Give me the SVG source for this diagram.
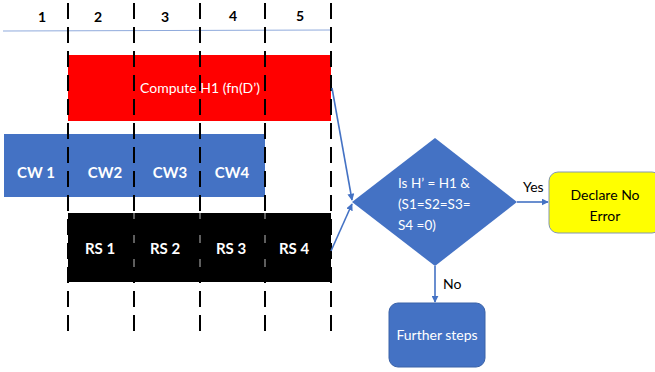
<svg xmlns="http://www.w3.org/2000/svg" width="655" height="372" viewBox="0 0 655 372">
<style>
text{font-family:Lato,"Open Sans","Liberation Sans",sans-serif;}
.num{font-size:14px;font-weight:bold;fill:#000;text-anchor:middle;}
.wt{fill:#fff;font-size:14px;text-anchor:middle;}
.wb{fill:#fff;font-size:15px;font-weight:bold;text-anchor:middle;}
.dash{stroke:#000;stroke-width:2;stroke-dasharray:16 8;fill:none;}
.conn{stroke:#4472C4;stroke-width:1.6;fill:none;marker-end:url(#arr);}
.lbl{font-size:14px;fill:#000;}
.dt{fill:#fff;font-size:13.5px;}
</style>
<defs>
<marker id="arr" viewBox="0 0 10 10" refX="9" refY="5" markerWidth="7" markerHeight="7" orient="auto" markerUnits="userSpaceOnUse">
<path d="M0,0 L10,5 L0,10 z" fill="#4472C4"/>
</marker>
</defs>
<rect width="655" height="372" fill="#fff"/>
<g id="timeline">
<line x1="3" y1="31" x2="331" y2="30" stroke="#8FAADC" stroke-width="1"/>
<text class="num" x="42" y="22">1</text>
<text class="num" x="98" y="22">2</text>
<text class="num" x="165" y="22">3</text>
<text class="num" x="233" y="21">4</text>
<text class="num" x="300" y="21">5</text>
</g>
<g id="compute">
<rect x="68" y="55" width="263" height="66" fill="#FF0000"/>
<text class="wt" x="200" y="93">Compute H1 (fn(D’)</text>
</g>
<g id="cw">
<rect x="4" y="134" width="261" height="63" fill="#4472C4"/>
<text class="wb" x="36" y="178">CW 1</text>
<text class="wb" x="105" y="178">CW2</text>
<text class="wb" x="170" y="178">CW3</text>
<text class="wb" x="232" y="178">CW4</text>
</g>
<g id="rs">
<rect x="68" y="213" width="263" height="69" fill="#000"/>
<line x1="134" y1="213" x2="134" y2="282" stroke="#bbb" stroke-width="1"/>
<line x1="200" y1="213" x2="200" y2="282" stroke="#bbb" stroke-width="1"/>
<line x1="265" y1="213" x2="265" y2="282" stroke="#bbb" stroke-width="1"/>
<text class="wb" x="100" y="254">RS 1</text>
<text class="wb" x="165" y="254">RS 2</text>
<text class="wb" x="231" y="254">RS 3</text>
<text class="wb" x="294" y="254">RS 4</text>
</g>
<g id="gridlines">
<line class="dash" x1="68" y1="3" x2="68" y2="332"/>
<line class="dash" x1="134" y1="3" x2="134" y2="332"/>
<line class="dash" x1="200" y1="3" x2="200" y2="332"/>
<line class="dash" x1="265" y1="3" x2="265" y2="332"/>
<line class="dash" x1="331" y1="3" x2="331" y2="332"/>
</g>
<g id="decision">
<polygon points="435,138 517,202 435,266 352,202" fill="#4472C4"/>
<text class="dt" x="398" y="188">Is H’ = H1 &amp;</text>
<text class="dt" x="398" y="209">(S1=S2=S3=</text>
<text class="dt" x="398" y="230">S4 =0)</text>
</g>
<g id="declare">
<rect x="549" y="172" width="112" height="61" rx="9" fill="#FFFF00" stroke="#8497B0" stroke-width="1"/>
<text x="605" y="200" style="font-size:14px;fill:#000;text-anchor:middle;">Declare No</text>
<text x="605" y="221" style="font-size:14px;fill:#000;text-anchor:middle;">Error</text>
</g>
<g id="further">
<rect x="389" y="303" width="96" height="64" rx="9" fill="#4472C4" stroke="#3A62A8" stroke-width="1"/>
<text x="437" y="340" style="font-size:14px;fill:#fff;text-anchor:middle;">Further steps</text>
</g>
<g id="connectors">
<line class="conn" x1="332" y1="88" x2="352" y2="200"/>
<line class="conn" x1="331" y1="251" x2="352" y2="204"/>
<line class="conn" x1="517" y1="202" x2="548" y2="202"/>
<line class="conn" x1="435" y1="266" x2="435" y2="302"/>
<text class="lbl" x="523" y="192">Yes</text>
<text class="lbl" x="443" y="289">No</text>
</g>
</svg>
